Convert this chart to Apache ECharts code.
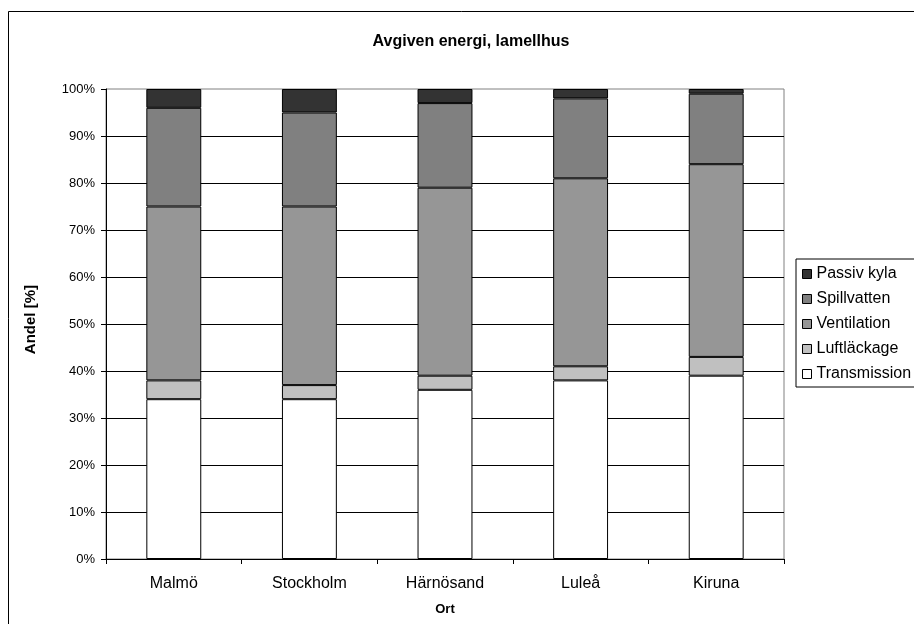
<!DOCTYPE html>
<html>
<head>
<meta charset="utf-8">
<script src="https://cdn.jsdelivr.net/npm/echarts@6/dist/echarts.min.js"></script>
<style>
html,body{margin:0;padding:0;background:#fff;}
#chart{width:914px;height:624px;}
</style>
</head>
<body>
<div id="chart"></div>
<script>
const categories = ['Malmö', 'Stockholm', 'Härnösand', 'Luleå', 'Kiruna'];
const transmission = [34, 34, 36, 38, 39];
const luftlackage = [4, 3, 3, 3, 4];
const ventilation = [37, 38, 40, 40, 41];
const spillvatten = [21, 20, 18, 17, 15];
const passivKyla = [4, 5, 3, 2, 1];
const legendOrder = ['Passiv kyla', 'Spillvatten', 'Ventilation', 'Luftläckage', 'Transmission'];

const FONT = '"Liberation Sans", Arial, sans-serif';
const chart = echarts.init(document.getElementById('chart'), null, {renderer: 'canvas'});

function mk(name, data, color) {
  return {
    name: name, type: 'bar', stack: 'total', data: data,
    barWidth: '40.5%',
    itemStyle: {color: color, borderColor: '#000', borderWidth: 1},
    emphasis: {disabled: true}
  };
}

chart.setOption({
  animation: false,
  backgroundColor: '#fff',
  textStyle: {fontFamily: FONT},
  title: {
    text: 'Avgiven energi, lamellhus',
    left: 466, top: 29, textAlign: 'center',
    textStyle: {fontFamily: FONT, fontSize: 16, fontWeight: 'bold', color: '#000'}
  },
  graphic: [
    {type: 'rect', shape: {x: 8.5, y: 11.5, width: 1000, height: 1000},
     style: {fill: 'none', stroke: '#000', lineWidth: 1}, z: 100, silent: true},
    {type: 'text', left: 23, top: 285, rotation: Math.PI / 2,
     style: {text: 'Andel [%]', font: 'bold 15px ' + FONT, fill: '#000'}, silent: true}
  ],
  legend: {
    orient: 'vertical', left: 796, top: 259,
    data: legendOrder,
    itemWidth: 9, itemHeight: 9, itemGap: 9,
    icon: 'rect',
    padding: [7, 30, 5, 6],
    borderColor: '#000', borderWidth: 1, backgroundColor: '#fff',
    itemStyle: {borderColor: '#000', borderWidth: 1},
    textStyle: {fontFamily: FONT, fontSize: 16, color: '#000', lineHeight: 16, padding: [0, 0, 0, 0]},
    selectedMode: false
  },
  grid: {
    left: 106, top: 89, width: 678, height: 470,
    outerBoundsMode: 'none', containLabel: false,
    show: true, borderColor: '#808080', borderWidth: 1, backgroundColor: '#fff'
  },
  xAxis: {
    type: 'category', data: categories,
    name: 'Ort', nameLocation: 'middle', nameGap: 44,
    nameTextStyle: {fontFamily: FONT, fontSize: 13, fontWeight: 'bold', color: '#000'},
    axisLine: {show: true, lineStyle: {color: '#000', width: 1}},
    axisTick: {show: true, length: 5, lineStyle: {color: '#000'}, alignWithLabel: false},
    axisLabel: {fontFamily: FONT, fontSize: 16, color: '#000', margin: 17},
    splitLine: {show: false}
  },
  yAxis: {
    type: 'value', min: 0, max: 100, interval: 10,
    axisLine: {show: true, lineStyle: {color: '#000', width: 1}},
    axisTick: {show: true, length: 5, lineStyle: {color: '#000'}},
    axisLabel: {fontFamily: FONT, fontSize: 13, color: '#000', margin: 11, formatter: '{value}%'},
    splitLine: {show: true, showMaxLine: false, lineStyle: {color: '#000', width: 1}}
  },
  series: [
    mk('Transmission', transmission, '#ffffff'),
    mk('Luftläckage', luftlackage, '#c0c0c0'),
    mk('Ventilation', ventilation, '#969696'),
    mk('Spillvatten', spillvatten, '#808080'),
    mk('Passiv kyla', passivKyla, '#333333')
  ]
});
</script>
</body>
</html>
